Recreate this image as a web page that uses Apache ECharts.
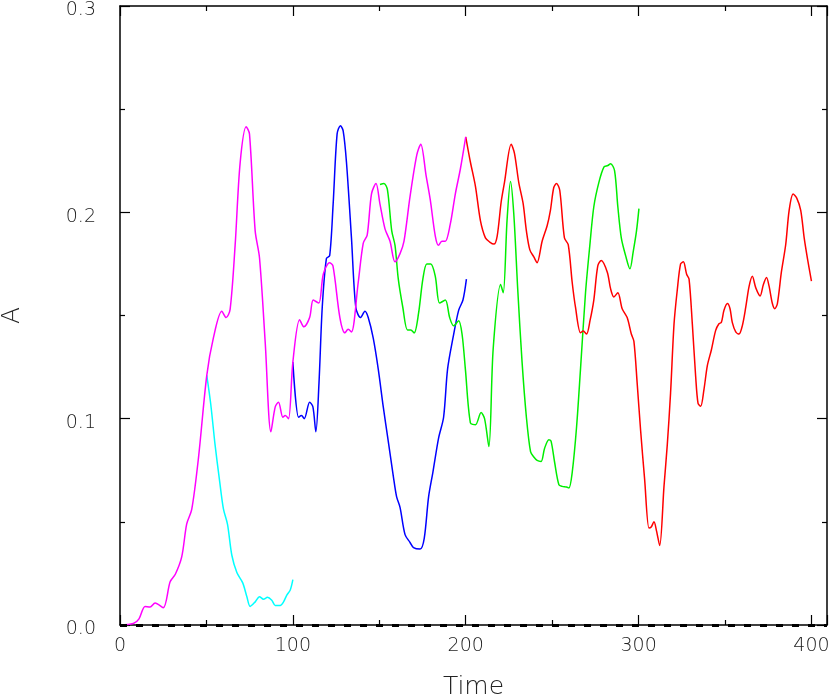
<!DOCTYPE html>
<html>
<head>
<meta charset="utf-8">
<script src="https://cdn.jsdelivr.net/npm/echarts@6/dist/echarts.min.js"></script>
<style>
  html, body { margin: 0; padding: 0; background: #fff; }
  #chart { width: 830px; height: 697px; }
</style>
</head>
<body>
<div id="chart"></div>
<script>
// [Time, A]
let magenta = [
  [0, 0], [7.7, 0.0007], [11, 0.003], [14.5, 0.009], [17.4, 0.0087], [20.3, 0.0107], [25, 0.0084],
  [29, 0.021], [32, 0.0246], [35.7, 0.033], [38.6, 0.049], [41.5, 0.056], [45.4, 0.081], [50.2, 0.121],
  [54, 0.139], [58.9, 0.152], [61.4, 0.149], [63.7, 0.153], [66.6, 0.184], [69.5, 0.224], [73, 0.2415],
  [74.9, 0.238], [78.2, 0.191], [80.7, 0.178], [84, 0.137], [87.3, 0.0936], [89.8, 0.1057], [91.7, 0.108],
  [94.2, 0.1007], [95.6, 0.1015], [97.5, 0.1], [100, 0.1274], [103.9, 0.148], [106.4, 0.1445], [109.7, 0.149],
  [111.8, 0.1575], [115, 0.156], [117.6, 0.170], [121.2, 0.1756], [123.2, 0.174], [127.2, 0.149], [130.1, 0.1416],
  [132, 0.1433], [133.9, 0.142], [137.8, 0.166], [140.7, 0.185], [143, 0.189], [145.5, 0.209], [148.1, 0.214],
  [150.4, 0.204], [153.3, 0.192], [156.2, 0.186], [159.1, 0.176], [162, 0.180], [164.3, 0.186], [167.8, 0.2077],
  [171.7, 0.2278], [174, 0.233], [177.1, 0.2177], [179.5, 0.206], [182.4, 0.1885], [184.3, 0.184], [186.2, 0.186],
  [188.2, 0.186], [191, 0.194], [194, 0.209], [196.9, 0.221], [200, 0.2366]
]
let cyan = [
  [50.2, 0.121], [52.5, 0.107], [55, 0.0873], [57.5, 0.0706], [59.8, 0.0564], [62.2, 0.0488], [64.7, 0.0338],
  [67.6, 0.0254], [71, 0.0204], [73.4, 0.0137], [75.3, 0.009], [78.2, 0.0112], [80.7, 0.0137], [83, 0.0125],
  [85.3, 0.0134], [87.8, 0.012], [89.8, 0.0095], [92.7, 0.0095], [94.6, 0.0112], [96.5, 0.0145], [98.5, 0.017],
  [100, 0.022]
]
let blue = [
  [100, 0.1274], [103.3, 0.1007], [105, 0.1015], [106.6, 0.100], [109.7, 0.108], [111.6, 0.1057], [113.3, 0.0936],
  [115.1, 0.117], [117, 0.154], [119.4, 0.1776], [121.3, 0.179], [123.3, 0.204], [125.6, 0.238], [127.5, 0.242],
  [129.1, 0.2395], [131, 0.2244], [133.9, 0.1876], [136.4, 0.154], [139.1, 0.149], [141.7, 0.152], [143.6, 0.149],
  [146.5, 0.139], [149.4, 0.124], [152.3, 0.1057], [155.2, 0.089], [158.1, 0.0722], [160, 0.0622], [162, 0.057],
  [164.9, 0.0438], [167.8, 0.040], [169.8, 0.0375], [173.6, 0.0368], [176, 0.042], [178.5, 0.062], [181, 0.074],
  [184.3, 0.0906], [187.2, 0.1007], [189.5, 0.124], [192.6, 0.139], [195.9, 0.1525], [198.4, 0.1575], [200.4, 0.1676]
]
let green = [
  [150.4, 0.2135], [152.7, 0.214], [154.7, 0.211], [157.2, 0.191], [159.1, 0.184], [161, 0.1676], [163.6, 0.154],
  [166.3, 0.143], [168.2, 0.143], [170.2, 0.1416], [172.7, 0.151], [175.2, 0.1676], [177.5, 0.175], [179.8, 0.175],
  [182.4, 0.169], [184.9, 0.156], [188.2, 0.1575], [190.7, 0.149], [193, 0.145], [195.9, 0.1475], [197.9, 0.1408],
  [199.8, 0.124], [202.7, 0.098], [205.6, 0.097], [208.9, 0.103], [210.9, 0.100], [213.4, 0.0865], [215.9, 0.134],
  [220.2, 0.165], [221.7, 0.161], [223.9, 0.196], [225.9, 0.215], [227.8, 0.1993], [230.1, 0.1625], [232.6, 0.1274],
  [235.1, 0.1007], [237.5, 0.084], [239.4, 0.0814], [241.3, 0.0798], [243.6, 0.0793], [245.6, 0.0856], [248.1, 0.0898],
  [249.4, 0.089], [251.4, 0.079], [253.9, 0.068], [255.8, 0.0672], [258.3, 0.0669], [259.7, 0.0664], [261.6, 0.0739],
  [264.1, 0.0957], [266.4, 0.124], [269.3, 0.161], [271.8, 0.184], [274.1, 0.2027], [277, 0.2144], [280, 0.222],
  [282.2, 0.2227], [283.8, 0.2236], [286.1, 0.2202], [288, 0.2027], [290, 0.1876], [292.5, 0.179], [295, 0.1726],
  [296.9, 0.181], [298.8, 0.191], [300.2, 0.2018]
]
let red = [
  [200, 0.2366], [202.7, 0.2244], [205.6, 0.2127], [208.5, 0.196], [211.4, 0.1876], [213.9, 0.1856], [216.3, 0.1846],
  [218.2, 0.1885], [220.5, 0.205], [222.4, 0.2144], [226.3, 0.233], [228.2, 0.2286], [230.7, 0.2144], [233.2, 0.2043],
  [235.1, 0.191], [237.1, 0.1818], [239.4, 0.1784], [241.3, 0.1756], [244.2, 0.186], [247.1, 0.1935], [249, 0.201],
  [250.9, 0.2119], [252.5, 0.214], [254.4, 0.2107], [257.1, 0.1876], [259.3, 0.1843], [261.6, 0.166], [263.5, 0.154],
  [266.4, 0.1416], [268, 0.1425], [269.9, 0.141], [271.9, 0.1475], [274.1, 0.1575], [276.4, 0.174], [278.4, 0.1767],
  [281.9, 0.171], [283.8, 0.163], [285.7, 0.159], [288, 0.161], [290.5, 0.1533], [293.4, 0.149], [295.8, 0.141],
  [297.3, 0.1375], [299.2, 0.117], [301.2, 0.094], [303.5, 0.0706], [306, 0.047], [307.3, 0.0475], [308.9, 0.050],
  [310.4, 0.0455], [312.2, 0.0385], [314.7, 0.0672], [316.6, 0.0873], [318.5, 0.1124], [320.5, 0.1458], [322.4, 0.1625],
  [324.3, 0.175], [325.9, 0.176], [327.8, 0.170], [329.2, 0.1676], [331.1, 0.1458], [333, 0.1207], [334.4, 0.1074],
  [335.9, 0.106], [337.8, 0.114], [339.8, 0.1258], [342.1, 0.1333], [344.6, 0.1428], [346.5, 0.146], [347.9, 0.1467],
  [349.4, 0.1525], [351.4, 0.1558], [352.9, 0.1533], [354.2, 0.1467], [356.2, 0.1421], [358.1, 0.141], [360, 0.145],
  [362, 0.154], [363.9, 0.164], [365.8, 0.169], [367.8, 0.1634], [370.3, 0.1595], [372.2, 0.165], [374, 0.1684],
  [375.5, 0.1642], [377.4, 0.1558], [378.8, 0.1533], [380.3, 0.1558], [382.6, 0.171], [385.1, 0.1843], [387.1, 0.201],
  [389.4, 0.2089], [391.5, 0.2069], [393.8, 0.201], [395.8, 0.1876], [397.7, 0.1776], [400, 0.1667]
]

let font = 'DejaVu Sans'
  , textColor = '#222'

let chart = echarts.init(document.getElementById('chart'))

function lineSeries(data, color) {
  return {
    type: 'line',
    data: data,
    showSymbol: false,
    smooth: 0.3,
    animation: false,
    lineStyle: { color: color, width: 1.5 },
    z: 3
  }
}

let tickCommon = {
  axisLine: { show: true, onZero: false, lineStyle: { color: '#000', width: 1.5 } },
  axisTick: { show: true, inside: true, length: 10, lineStyle: { color: '#000', width: 1.2 } },
  minorTick: { show: true, splitNumber: 2, length: 5, lineStyle: { color: '#000', width: 1.2 } },
  splitLine: { show: false },
  minorSplitLine: { show: false }
}

chart.setOption({
  backgroundColor: '#fff',
  animation: false,
  grid: { left: 120, top: 6, right: 3, bottom: 72, containLabel: false, outerBoundsMode: 'none' },
  xAxis: [
    {
      type: 'value', min: 0, max: 409, interval: 100, position: 'bottom',
      name: 'Time', nameLocation: 'middle', nameGap: 50,
      nameTextStyle: { fontFamily: font, fontWeight: 200, fontSize: 25, color: textColor },
      axisLabel: {
        fontFamily: font, fontWeight: 200, fontSize: 19, color: textColor, margin: 12,
        showMaxLabel: false
      },
      ...tickCommon
    },
    {
      type: 'value', min: 0, max: 409, interval: 100, position: 'top',
      axisLabel: { show: false },
      ...tickCommon
    }
  ],
  yAxis: [
    {
      type: 'value', min: 0, max: 0.3, interval: 0.1, position: 'left',
      name: 'A', nameLocation: 'middle', nameGap: 95, nameRotate: 90,
      nameTextStyle: { fontFamily: font, fontWeight: 200, fontSize: 25, color: textColor },
      axisLabel: {
        fontFamily: font, fontWeight: 200, fontSize: 19, color: textColor, margin: 24,
        verticalAlign: 'top', lineHeight: 9,
        formatter: v => v.toFixed(1)
      },
      ...tickCommon
    },
    {
      type: 'value', min: 0, max: 0.3, interval: 0.1, position: 'right',
      axisLabel: { show: false },
      ...tickCommon
    }
  ],
  series: [
    lineSeries(cyan, '#00ffff'),
    lineSeries(blue, '#0000ff'),
    lineSeries(green, '#00ee00'),
    lineSeries(red, '#ff0000'),
    {
      ...lineSeries(magenta, '#ff00ff'),
      markLine: {
        silent: true,
        symbol: 'none',
        label: { show: false },
        lineStyle: { color: '#000', type: [7, 9], width: 3 },
        data: [{ yAxis: 0 }]
      }
    }
  ]
})
</script>
</body>
</html>
